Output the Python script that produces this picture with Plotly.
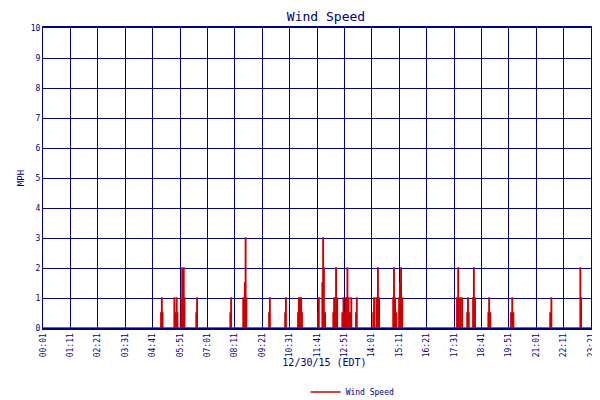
import plotly.graph_objects as go

# Observed wind speed readings (minute of day, mph); all other minutes are calm (0)
event_minutes = [302, 304, 306, 336, 338, 342, 344, 354, 356, 358, 360, 362, 392, 394,
                 479, 481, 512, 514, 516, 518, 520, 578, 580, 619, 621,
                 652, 654, 656, 658, 660, 662, 703, 705, 714, 716, 718, 721,
                 742, 744, 746, 749, 752, 765, 768, 771, 774, 778, 781, 785, 788,
                 800, 802, 844, 846, 852, 856, 859,
                 895, 897, 900, 903, 910, 912, 915, 918,
                 1058, 1061, 1066, 1071, 1084, 1086, 1088, 1099, 1101, 1104,
                 1138, 1140, 1143, 1196, 1199, 1202, 1296, 1299, 1373, 1375,
                 1408, 1410, 1413]
event_speeds = [0.5, 1, 0.5, 1, 0.5, 1, 0.5, 1, 2, 0, 2, 1, 0.5, 1,
                0.5, 1, 1, 0.5, 1.5, 3, 1, 0.5, 1, 0.5, 1,
                0.5, 1, 0.5, 1, 1, 0.5, 0.5, 1, 1.5, 3, 2, 0.5,
                0.5, 1, 0.5, 2, 1, 0.5, 1, 0.5, 1, 2, 1, 0.5, 1,
                0.5, 1, 0.5, 1, 1, 2, 1,
                1, 2, 1, 0.5, 1, 1.5, 2, 1,
                1, 2, 1, 1, 0.5, 1, 0.5, 1, 2, 1,
                0.5, 1, 0.5, 0.5, 1, 0.5, 0.5, 1, 2, 1,
                1, 2, 1]
tick_minutes = [1, 71, 141, 211, 281, 351, 421, 491, 561, 631, 701, 771, 841,
                911, 981, 1051, 1121, 1191, 1261, 1331, 1401, 1439]
tick_labels = ["00:01", "01:11", "02:21", "03:31", "04:41", "05:51", "07:01", "08:11",
               "09:21", "10:31", "11:41", "12:51", "14:01", "15:11", "16:21", "17:31",
               "18:41", "19:51", "21:01", "22:11", "23:21", "23:59"]

readings = dict(zip(event_minutes, event_speeds))
minutes = list(range(1, 1440))
speeds = [readings.get(m, 0) for m in minutes]

navy = "#000080"
font = "DejaVu Sans Mono"
fig = go.Figure(go.Scatter(x=minutes, y=speeds, mode="lines", line=dict(color="#cc0000", width=1.5, shape="hv"),
                           name="Wind Speed"))
fig.update_layout(
    width=600, height=400, margin=dict(l=35, r=2, t=20, b=63),
    paper_bgcolor="white", plot_bgcolor="white",
    title=dict(text="Wind Speed", x=0.53, y=0.99, xanchor="center", yanchor="top",
               font=dict(family=font, size=13, color=navy)),
    font=dict(family=font, size=8, color=navy),
    showlegend=True,
    legend=dict(orientation="h", x=0.55, xanchor="center", y=-0.165, yanchor="top", font=dict(size=8, color=navy)),
)
fig.update_xaxes(range=[1, 1439], tickvals=tick_minutes, ticktext=tick_labels, tickangle=-90,
                 showgrid=True, gridcolor=navy, gridwidth=1, showline=True, linecolor=navy, linewidth=2,
                 mirror=True, zeroline=False, ticks="", automargin=False, tickfont=dict(size=8),
                 title=dict(text="12/30/15 (EDT)", font=dict(size=10, color=navy), standoff=2))
fig.update_yaxes(range=[0, 10], dtick=1, showgrid=True, gridcolor=navy, gridwidth=1,
                 showline=True, linecolor=navy, linewidth=1, mirror=True, zeroline=False, ticks="",
                 automargin=False, tickfont=dict(size=8),
                 title=dict(text="MPH", font=dict(size=9, color=navy), standoff=4))
fig.write_html("out.html")
